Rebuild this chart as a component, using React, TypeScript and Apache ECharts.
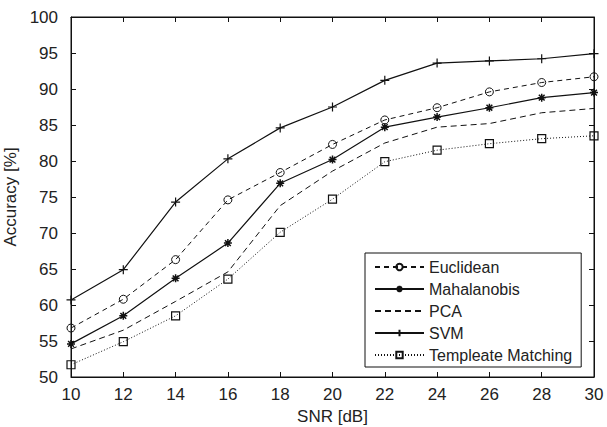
import React, { useEffect, useRef } from "react";
import * as echarts from "echarts";

const snr = [10, 12, 14, 16, 18, 20, 22, 24, 26, 28, 30];
const euclidean = [56.8, 60.8, 66.3, 74.6, 78.4, 82.3, 85.7, 87.4, 89.6, 90.9, 91.7];
const mahalanobis = [54.6, 58.5, 63.7, 68.6, 76.9, 80.2, 84.7, 86.1, 87.4, 88.8, 89.5];
const pca = [53.9, 56.5, 60.5, 64.6, 73.8, 78.6, 82.5, 84.7, 85.2, 86.7, 87.3];
const svm = [60.7, 64.9, 74.3, 80.3, 84.6, 87.5, 91.2, 93.6, 93.9, 94.2, 94.9];
const template = [51.7, 54.9, 58.5, 63.6, 70.1, 74.7, 79.9, 81.5, 82.4, 83.1, 83.5];

const FONT = "Liberation Sans, Arial, sans-serif";
const C = "#111";
const T = "#222";

const plus = "path://M0,-1L0,1M-1,0L1,0";
const aster = "path://M0,-1L0,1M-1,0L1,0M-0.72,-0.72L0.72,0.72M-0.72,0.72L0.72,-0.72";

function pts(ys: number[]) {
  return snr.map((x, i) => [x, ys[i]]);
}

export default function App() {
  const ref = useRef<HTMLDivElement>(null);
  useEffect(() => {
    const chart = echarts.init(ref.current!, null, { renderer: "svg" });
    const axisCommon = {
      axisLine: { show: true, onZero: false, lineStyle: { color: C, width: 1 } },
      splitLine: { show: false },
    };
    const tick = { show: true, inside: true, length: 5, lineStyle: { color: C } };
    chart.setOption({
      animation: false,
      backgroundColor: "#fff",
      grid: {
        left: 71, right: 13, top: 17, bottom: 50,
        containLabel: false, outerBoundsMode: "none",
        show: true, borderColor: C, borderWidth: 1,
      },
      xAxis: [
        {
          type: "value", min: 10, max: 30, interval: 2,
          name: "SNR [dB]", nameLocation: "middle", nameGap: 27,
          nameTextStyle: { fontFamily: FONT, fontSize: 17, color: T },
          axisTick: tick,
          axisLabel: { fontFamily: FONT, fontSize: 17, color: T, margin: 9 },
          ...axisCommon,
        },
        {
          type: "value", min: 10, max: 30, interval: 2, position: "top",
          axisTick: tick,
          axisLabel: { show: false },
          ...axisCommon,
        },
      ],
      yAxis: [
        {
          type: "value", min: 50, max: 100, interval: 5,
          name: "Accuracy [%]", nameLocation: "middle", nameGap: 35,
          nameTextStyle: { fontFamily: FONT, fontSize: 17, color: T },
          axisTick: tick,
          axisLabel: { fontFamily: FONT, fontSize: 17, color: T, margin: 13 },
          ...axisCommon,
        },
        {
          type: "value", min: 50, max: 100, interval: 5, position: "right",
          axisTick: tick,
          axisLabel: { show: false },
          ...axisCommon,
        },
      ],
      legend: {
        orient: "vertical",
        left: 365,
        top: 253,
        backgroundColor: "#fff",
        borderColor: C,
        borderWidth: 1,
        borderRadius: 0,
        padding: [6, 9, 4, 9],
        itemWidth: 49,
        itemHeight: 8,
        itemGap: 6,
        textStyle: { fontFamily: FONT, fontSize: 16, color: T },
        data: [
          "Euclidean",
          "Mahalanobis",
          { name: "PCA", itemStyle: { color: "transparent", borderColor: "transparent", borderWidth: 0 } },
          "SVM",
          "Templeate Matching",
        ],
      },
      series: [
        {
          name: "Euclidean", type: "line", data: pts(euclidean),
          symbol: "circle", symbolSize: 8,
          lineStyle: { color: C, width: 1, type: [5, 4] },
          itemStyle: { color: "transparent", borderColor: C, borderWidth: 1 },
        },
        {
          name: "Mahalanobis", type: "line", data: pts(mahalanobis),
          symbol: aster, symbolSize: 8,
          lineStyle: { color: C, width: 1.2, type: "solid" },
          itemStyle: { color: "transparent", borderColor: C, borderWidth: 1.5 },
        },
        {
          name: "PCA", type: "line", data: pts(pca),
          symbol: "none",
          lineStyle: { color: C, width: 1, type: [6, 4] },
          itemStyle: { color: C },
        },
        {
          name: "SVM", type: "line", data: pts(svm),
          symbol: plus, symbolSize: 9,
          lineStyle: { color: C, width: 1.2, type: "solid" },
          itemStyle: { color: "transparent", borderColor: C, borderWidth: 1.2 },
        },
        {
          name: "Templeate Matching", type: "line", data: pts(template),
          symbol: "rect", symbolSize: 8,
          lineStyle: { color: C, width: 1, type: [1, 2] },
          itemStyle: { color: "transparent", borderColor: C, borderWidth: 1.2 },
        },
      ],
    });
    return () => chart.dispose();
  }, []);
  return <div ref={ref} style={{ width: 607, height: 427, position: "absolute", left: 0, top: 0 }} />;
}
